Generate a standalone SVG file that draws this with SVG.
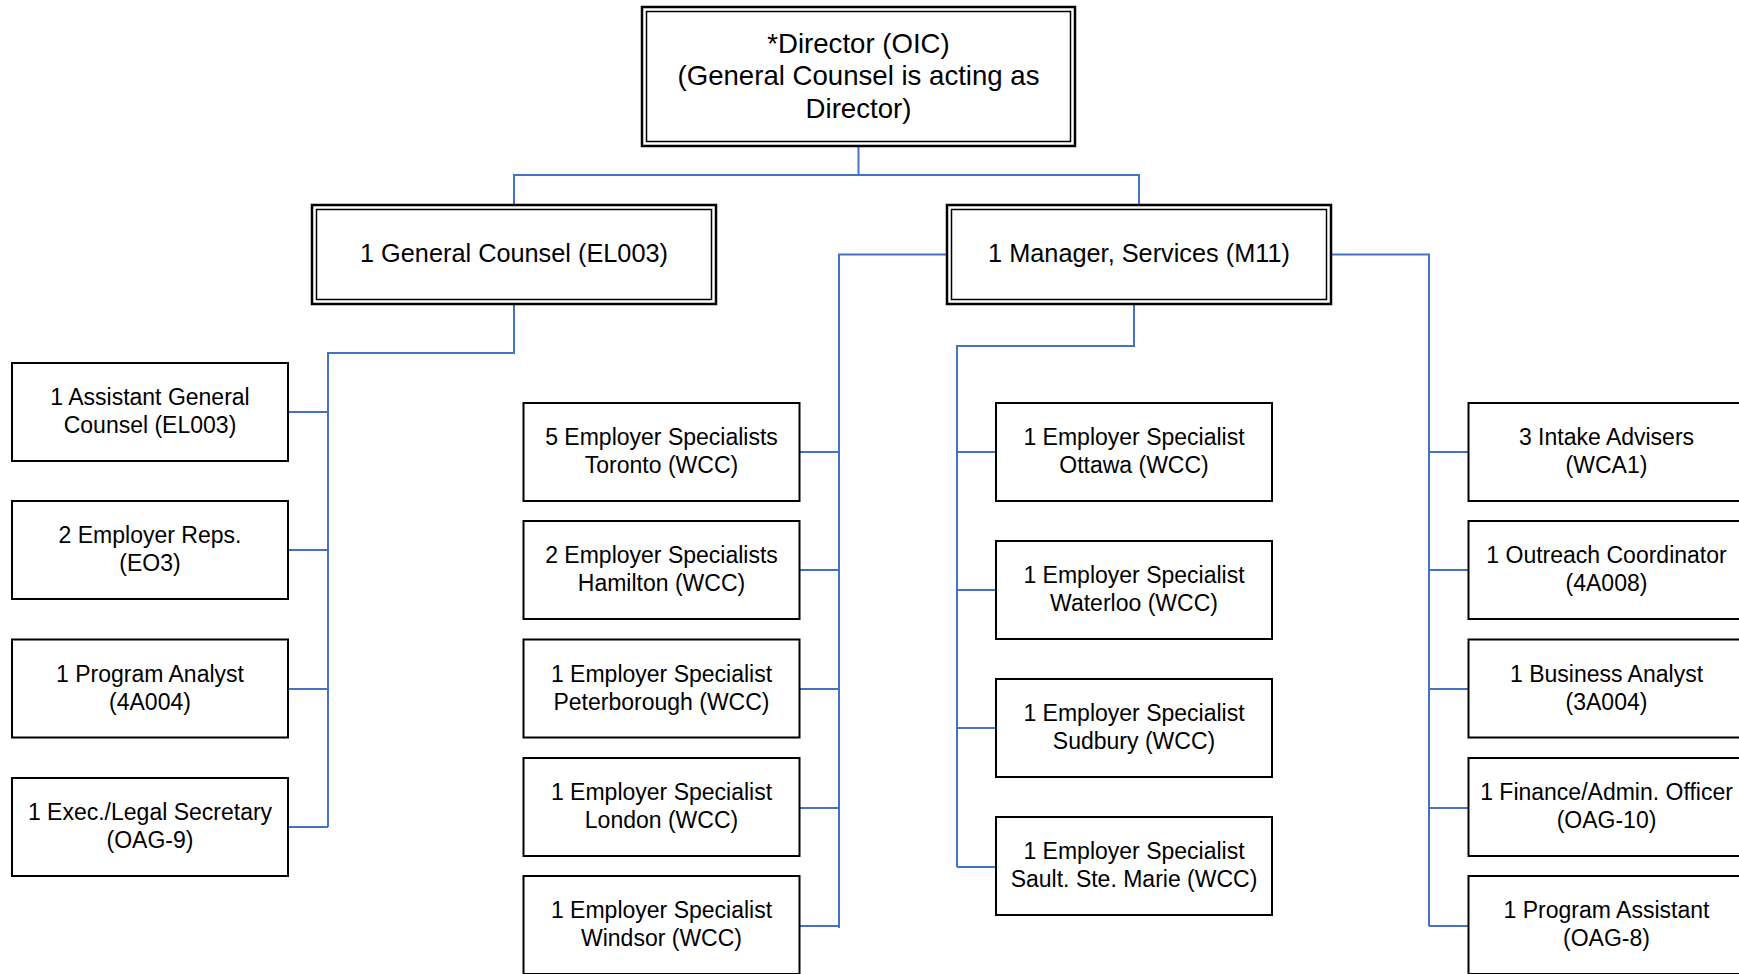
<svg xmlns="http://www.w3.org/2000/svg" width="1739" height="974" viewBox="0 0 1739 974">
<style>
.bg{fill:#fff}
.box{fill:#fff;stroke:#000;stroke-width:2}
.outer{fill:#fff;stroke:#000;stroke-width:2.5}
.inner{fill:none;stroke:#000;stroke-width:1.5}
.conn{fill:none;stroke:#4472C4;stroke-width:2}
text{font-family:"Liberation Sans",Arial,sans-serif;fill:#000;text-anchor:middle}
.t{font-size:23px}
.tm{font-size:25.3px}
.td{font-size:27.6px}
</style>
<rect class="bg" x="0" y="0" width="1739" height="974"/>
<g id="connectors">
<polyline class="conn" points="858.5,146 858.5,175"/>
<polyline class="conn" points="514,205 514,175 1139,175 1139,205"/>
<polyline class="conn" points="514,304 514,353 328,353 328,827"/>
<line class="conn" x1="288" y1="412" x2="328" y2="412"/>
<line class="conn" x1="288" y1="550" x2="328" y2="550"/>
<line class="conn" x1="288" y1="689" x2="328" y2="689"/>
<line class="conn" x1="288" y1="827" x2="328" y2="827"/>
<polyline class="conn" points="947,254.5 839,254.5 839,928"/>
<line class="conn" x1="799.5" y1="452" x2="839" y2="452"/>
<line class="conn" x1="799.5" y1="570" x2="839" y2="570"/>
<line class="conn" x1="799.5" y1="689" x2="839" y2="689"/>
<line class="conn" x1="799.5" y1="808" x2="839" y2="808"/>
<line class="conn" x1="799.5" y1="926" x2="839" y2="926"/>
<polyline class="conn" points="1134,304 1134,346 957,346 957,867"/>
<line class="conn" x1="957" y1="452" x2="996" y2="452"/>
<line class="conn" x1="957" y1="590" x2="996" y2="590"/>
<line class="conn" x1="957" y1="728" x2="996" y2="728"/>
<line class="conn" x1="957" y1="867" x2="996" y2="867"/>
<polyline class="conn" points="1331,254.5 1429,254.5 1429,926"/>
<line class="conn" x1="1429" y1="452" x2="1468.5" y2="452"/>
<line class="conn" x1="1429" y1="570" x2="1468.5" y2="570"/>
<line class="conn" x1="1429" y1="689" x2="1468.5" y2="689"/>
<line class="conn" x1="1429" y1="808" x2="1468.5" y2="808"/>
<line class="conn" x1="1429" y1="926" x2="1468.5" y2="926"/>
</g>
<g id="director">
<rect class="outer" x="642" y="7" width="433" height="139"/>
<rect class="inner" x="646.5" y="11.5" width="424" height="130"/>
<text class="td" x="858.5" y="53.3">*Director (OIC)</text>
<text class="td" x="858.5" y="85.2">(General Counsel is acting as</text>
<text class="td" x="858.5" y="117.6">Director)</text>
</g>
<g id="general-counsel">
<rect class="outer" x="312" y="205" width="404" height="99"/>
<rect class="inner" x="316.5" y="209.5" width="395" height="90"/>
<text class="tm" x="514" y="262">1 General Counsel (EL003)</text>
</g>
<g id="manager">
<rect class="outer" x="947" y="205" width="384" height="99"/>
<rect class="inner" x="951.5" y="209.5" width="375" height="90"/>
<text class="tm" x="1139" y="262">1 Manager, Services (M11)</text>
</g>
<g id="asst-general-counsel">
<rect class="box" x="12" y="363" width="276" height="98"/>
<text class="t" x="150" y="405">1 Assistant General</text>
<text class="t" x="150" y="433">Counsel (EL003)</text>
</g>
<g id="employer-reps">
<rect class="box" x="12" y="501" width="276" height="98"/>
<text class="t" x="150" y="543">2 Employer Reps.</text>
<text class="t" x="150" y="571">(EO3)</text>
</g>
<g id="program-analyst">
<rect class="box" x="12" y="639.5" width="276" height="98"/>
<text class="t" x="150" y="681.5">1 Program Analyst</text>
<text class="t" x="150" y="709.5">(4A004)</text>
</g>
<g id="exec-legal-secretary">
<rect class="box" x="12" y="778" width="276" height="98"/>
<text class="t" x="150" y="820">1 Exec./Legal Secretary</text>
<text class="t" x="150" y="848">(OAG-9)</text>
</g>
<g id="es-toronto">
<rect class="box" x="523.5" y="403" width="276" height="98"/>
<text class="t" x="661.5" y="445">5 Employer Specialists</text>
<text class="t" x="661.5" y="473">Toronto (WCC)</text>
</g>
<g id="es-hamilton">
<rect class="box" x="523.5" y="521" width="276" height="98"/>
<text class="t" x="661.5" y="563">2 Employer Specialists</text>
<text class="t" x="661.5" y="591">Hamilton (WCC)</text>
</g>
<g id="es-peterborough">
<rect class="box" x="523.5" y="639.5" width="276" height="98"/>
<text class="t" x="661.5" y="681.5">1 Employer Specialist</text>
<text class="t" x="661.5" y="709.5">Peterborough (WCC)</text>
</g>
<g id="es-london">
<rect class="box" x="523.5" y="758" width="276" height="98"/>
<text class="t" x="661.5" y="800">1 Employer Specialist</text>
<text class="t" x="661.5" y="828">London (WCC)</text>
</g>
<g id="es-windsor">
<rect class="box" x="523.5" y="876" width="276" height="98"/>
<text class="t" x="661.5" y="918">1 Employer Specialist</text>
<text class="t" x="661.5" y="946">Windsor (WCC)</text>
</g>
<g id="es-ottawa">
<rect class="box" x="996" y="403" width="276" height="98"/>
<text class="t" x="1134" y="445">1 Employer Specialist</text>
<text class="t" x="1134" y="473">Ottawa (WCC)</text>
</g>
<g id="es-waterloo">
<rect class="box" x="996" y="541" width="276" height="98"/>
<text class="t" x="1134" y="583">1 Employer Specialist</text>
<text class="t" x="1134" y="611">Waterloo (WCC)</text>
</g>
<g id="es-sudbury">
<rect class="box" x="996" y="679" width="276" height="98"/>
<text class="t" x="1134" y="721">1 Employer Specialist</text>
<text class="t" x="1134" y="749">Sudbury (WCC)</text>
</g>
<g id="es-sault">
<rect class="box" x="996" y="817" width="276" height="98"/>
<text class="t" x="1134" y="859">1 Employer Specialist</text>
<text class="t" x="1134" y="887">Sault. Ste. Marie (WCC)</text>
</g>
<g id="intake-advisers">
<rect class="box" x="1468.5" y="403" width="276" height="98"/>
<text class="t" x="1606.5" y="445">3 Intake Advisers</text>
<text class="t" x="1606.5" y="473">(WCA1)</text>
</g>
<g id="outreach-coordinator">
<rect class="box" x="1468.5" y="521" width="276" height="98"/>
<text class="t" x="1606.5" y="563">1 Outreach Coordinator</text>
<text class="t" x="1606.5" y="591">(4A008)</text>
</g>
<g id="business-analyst">
<rect class="box" x="1468.5" y="639.5" width="276" height="98"/>
<text class="t" x="1606.5" y="681.5">1 Business Analyst</text>
<text class="t" x="1606.5" y="709.5">(3A004)</text>
</g>
<g id="finance-admin-officer">
<rect class="box" x="1468.5" y="758" width="276" height="98"/>
<text class="t" x="1606.5" y="800">1 Finance/Admin. Officer</text>
<text class="t" x="1606.5" y="828">(OAG-10)</text>
</g>
<g id="program-assistant">
<rect class="box" x="1468.5" y="876" width="276" height="98"/>
<text class="t" x="1606.5" y="918">1 Program Assistant</text>
<text class="t" x="1606.5" y="946">(OAG-8)</text>
</g>
</svg>
